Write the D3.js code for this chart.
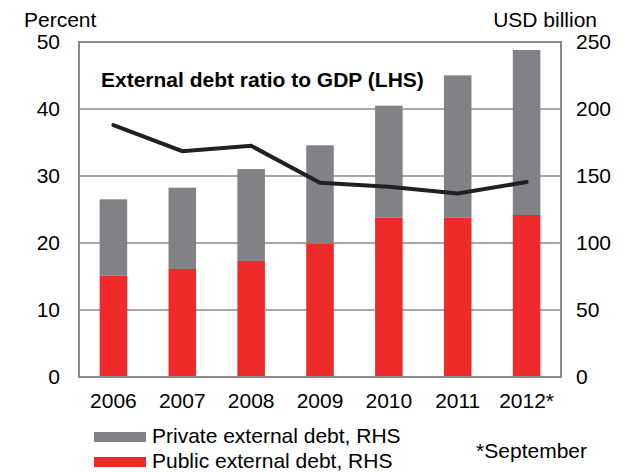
<!DOCTYPE html>
<html><head><meta charset="utf-8">
<script src="https://cdn.jsdelivr.net/npm/d3@7/dist/d3.min.js"></script>
<style>body{margin:0;background:#fff}svg{display:block}text{font-family:"Liberation Sans",Arial,sans-serif;fill:#000}</style>
</head><body><svg id="c" width="625" height="472"></svg>
<script>
const years = ["2006","2007","2008","2009","2010","2011","2012*"];
const publicDebt = [75.6, 80.6, 86.6, 99.4, 118.9, 118.9, 120.9];
const privateDebt = [57.0, 60.7, 68.6, 73.5, 83.6, 106.2, 123.1];
const ratioGDP = [37.6, 33.7, 34.5, 29.0, 28.4, 27.4, 29.1];
const leftTicks = [0, 10, 20, 30, 40, 50];
const rightTicks = [0, 50, 100, 150, 200, 250];

const svg = d3.select("#c");
const L = 79, R = 561, T = 42, B = 377;
const x = d3.scaleBand().domain(years).range([L, R]).paddingInner(0.6).paddingOuter(0.3);
const yL = d3.scaleLinear().domain([0, 50]).range([B, T]);
const yR = d3.scaleLinear().domain([0, 250]).range([B, T]);
const gridC = "#8a8a8d";

// gridlines
svg.append("g").selectAll("line").data(leftTicks.slice(1, -1)).join("line")
  .attr("x1", L).attr("x2", R).attr("y1", d => yL(d)).attr("y2", d => yL(d))
  .attr("stroke", gridC).attr("stroke-width", 1.5);

// bars
const stack = years.map((y, i) => ({y, pub: publicDebt[i], tot: publicDebt[i] + privateDebt[i]}));
svg.append("g").selectAll("rect").data(stack).join("rect")
  .attr("x", d => x(d.y)).attr("width", x.bandwidth())
  .attr("y", d => yR(d.tot)).attr("height", d => yR(d.pub) - yR(d.tot))
  .attr("fill", "#818285");
svg.append("g").selectAll("rect").data(stack).join("rect")
  .attr("x", d => x(d.y)).attr("width", x.bandwidth())
  .attr("y", d => yR(d.pub)).attr("height", d => yR(0) - yR(d.pub))
  .attr("fill", "#ee2a2b");

// frame
svg.append("rect").attr("x", L).attr("y", T).attr("width", R - L).attr("height", B - T)
  .attr("fill", "none").attr("stroke", gridC).attr("stroke-width", 2);

// line
const line = d3.line().x((d, i) => x(years[i]) + x.bandwidth() / 2).y(d => yL(d));
svg.append("path").datum(ratioGDP).attr("d", line)
  .attr("fill", "none").attr("stroke", "#231f20").attr("stroke-width", 4)
  .attr("stroke-linejoin", "miter").attr("stroke-linecap", "round");

// axes labels
const axL = d3.axisLeft(yL).tickValues(leftTicks).tickSize(0).tickPadding(19);
const gL = svg.append("g").attr("transform", `translate(${L},0)`).call(axL);
const axR = d3.axisRight(yR).tickValues(rightTicks).tickSize(0).tickPadding(15);
const gR = svg.append("g").attr("transform", `translate(${R},0)`).call(axR);
const axB = d3.axisBottom(x).tickSize(0).tickPadding(16);
const gB = svg.append("g").attr("transform", `translate(0,${B})`).call(axB);
[gL, gR, gB].forEach(g => {
  g.select(".domain").remove();
  g.selectAll("text").style("font-size", "21px").attr("fill", "#000");
});

// titles
svg.append("text").attr("x", 24).attr("y", 27).style("font-size", "21px").text("Percent");
svg.append("text").attr("x", 597).attr("y", 27).attr("text-anchor", "end").style("font-size", "21px").text("USD billion");
svg.append("text").attr("x", 101).attr("y", 87).style("font-size", "21px").style("font-weight", "bold")
  .text("External debt ratio to GDP (LHS)");

// legend
const legend = [["Private external debt, RHS", "#818285"], ["Public external debt, RHS", "#ee2a2b"]];
const lg = svg.append("g").selectAll("g").data(legend).join("g")
  .attr("transform", (d, i) => `translate(94,${432 + i * 25})`);
lg.append("rect").attr("width", 52).attr("height", 10).attr("fill", d => d[1]);
lg.append("text").attr("x", 58).attr("y", 10.5).style("font-size", "21px").text(d => d[0]);
svg.append("text").attr("x", 587).attr("y", 458).attr("text-anchor", "end").style("font-size", "21px").text("*September");
</script></body></html>
